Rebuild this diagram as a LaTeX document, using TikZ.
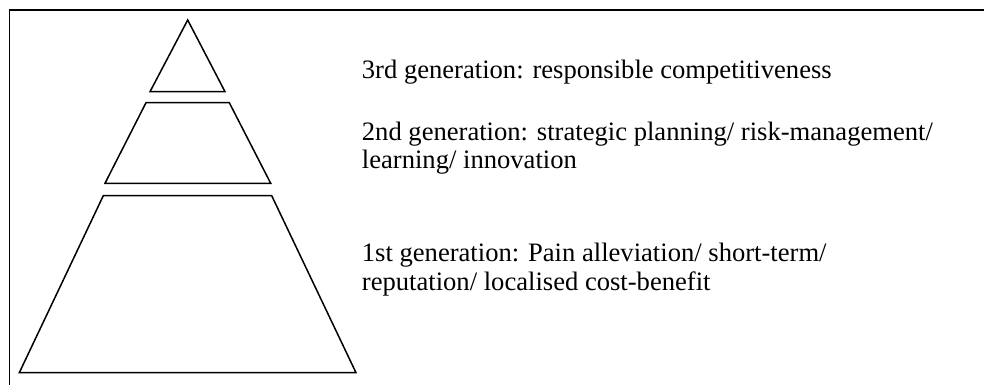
\documentclass[tikz,border=0pt]{standalone}
\usepackage{fontspec}
\setmainfont{Liberation Serif}
\begin{document}
\begin{tikzpicture}[x=0.5pt,y=-0.5pt,
  shape line/.style={draw=black,line width=0.75pt,line join=miter},
  gentext/.style={anchor=base west,inner sep=0pt,align=left,font=\fontsize{13.3pt}{14.15pt}\selectfont}]
\useasboundingbox (0,0) rectangle (984,385);
\clip (0,0) rectangle (984,385);
\coordinate (fbl) at (9.5,395);
\coordinate (ftl) at (9.5,10);
\coordinate (ftr) at (995,10);
\draw[shape line] (fbl) -- (ftl) -- (ftr);
% top triangle
\draw[shape line] (187.7,20) -- (225,91.7) -- (150,91.7) -- cycle;
% middle trapezoid
\draw[shape line] (146,102.7) -- (229.3,102.7) -- (270.7,183.3) -- (105,183.3) -- cycle;
% bottom trapezoid
\draw[shape line] (103.3,195.7) -- (271.7,195.7) -- (356,372.7) -- (19.3,372.7) -- cycle;
% text nodes: base anchor = baseline of last line
\node[gentext] (g3) at (361.5,79) {3rd generation: responsible competitiveness};
\node[gentext] (g2) at (361.5,168.3) {2nd generation: strategic planning/ risk-management/\\learning/ innovation};
\node[gentext] (g1) at (361.5,290) {1st generation: Pain alleviation/ short-term/\\reputation/ localised cost-benefit};
\end{tikzpicture}
\end{document}
